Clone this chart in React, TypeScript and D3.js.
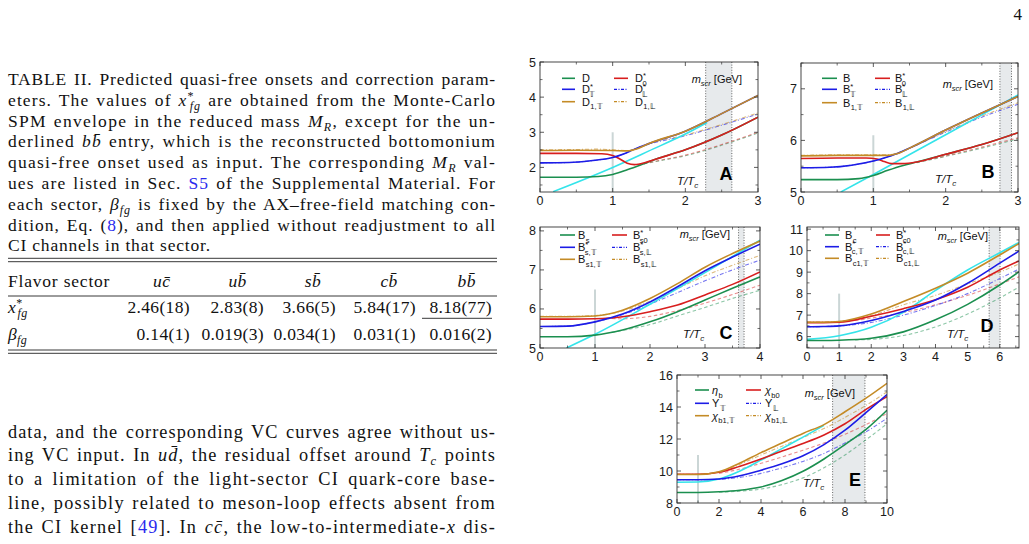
import { useEffect, useRef } from "react";
import * as d3 from "d3";

type Pt = [number, number];

const SERIF = '"Liberation Serif", "DejaVu Serif", serif';
const SANS = '"Liberation Sans", Arial, sans-serif';
const LINK = "#2b2bee";

// table II values
const SECTOR_LABELS = ["uc\u0304", "ub\u0304", "sb\u0304", "cb\u0304", "bb\u0304"];
const X_FG = [2.46, 2.83, 3.66, 5.84, 8.18];
const X_FG_ERR = [0.18, 0.08, 0.05, 0.17, 0.77];
const X_FG_TEXT = ["2.46(18)", "2.83(8)", "3.66(5)", "5.84(17)", "8.18(77)"];
const BETA_TEXT = ["0.14(1)", "0.019(3)", "0.034(1)", "0.031(1)", "0.016(2)"];

// panel A: D mesons
const D_PS: Pt[] = [[0, 1.72], [0.5, 1.72], [0.8, 1.74], [1, 1.8], [1.2, 1.93], [1.4, 2.08], [1.6, 2.24], [2, 2.5], [2.5, 2.92], [3, 3.43]];
const D_S: Pt[] = [[0, 2.4], [0.5, 2.4], [0.85, 2.39], [1, 2.34], [1.1, 2.24], [1.2, 2.12], [1.3, 2.08], [1.45, 2.14], [1.6, 2.24], [2, 2.5], [2.5, 2.92], [3, 3.43]];
const D_PS_DASH: Pt[] = [[1.35, 2.06], [1.6, 2.17], [2, 2.33], [2.5, 2.63], [3, 2.98]];
const D_S_DASH: Pt[] = [[1.35, 2.07], [1.6, 2.18], [2, 2.35], [2.5, 2.65], [3, 3.0]];
const D_VT: Pt[] = [[0, 2.13], [0.4, 2.14], [0.7, 2.19], [1, 2.28], [1.15, 2.38], [1.3, 2.52], [1.5, 2.68], [2, 3.03], [2.5, 3.53], [3, 4.05]];
const D_VL: Pt[] = [[0, 2.13], [0.4, 2.14], [0.7, 2.19], [1, 2.28], [1.15, 2.38], [1.3, 2.52], [1.5, 2.66], [2, 2.9], [2.5, 3.2], [3, 3.52]];
const D_AT: Pt[] = [[0, 2.48], [0.5, 2.49], [1, 2.48], [1.2, 2.47], [1.35, 2.54], [1.5, 2.68], [2, 3.03], [2.5, 3.53], [3, 4.05]];
const D_AL: Pt[] = [[0, 2.5], [0.5, 2.51], [0.8, 2.52], [1, 2.5], [1.2, 2.48], [1.35, 2.54], [1.5, 2.67], [2, 2.92], [2.5, 3.22], [3, 3.55]];
const D_FREE: Pt[] = [[0.18, 1.31], [1, 2.0], [1.5, 2.47], [2, 2.95], [2.3, 3.28]];

// panel B: B mesons
const B_PS: Pt[] = [[0, 5.24], [0.5, 5.24], [0.8, 5.26], [1, 5.32], [1.2, 5.42], [1.4, 5.51], [1.6, 5.58], [2, 5.73], [2.5, 5.92], [3, 6.15]];
const B_S: Pt[] = [[0, 5.65], [0.5, 5.66], [0.9, 5.66], [1.05, 5.64], [1.15, 5.59], [1.25, 5.55], [1.4, 5.55], [1.6, 5.58], [2, 5.73], [2.5, 5.92], [3, 6.15]];
const B_PS_DASH: Pt[] = [[1.6, 5.57], [2, 5.69], [2.5, 5.85], [3, 6.03]];
const B_S_DASH: Pt[] = [[1.6, 5.58], [2, 5.7], [2.5, 5.87], [3, 6.05]];
const B_VT: Pt[] = [[0, 5.47], [0.4, 5.48], [0.7, 5.52], [1, 5.6], [1.15, 5.66], [1.3, 5.73], [1.5, 5.85], [2, 6.2], [2.5, 6.53], [3, 6.85]];
const B_VL: Pt[] = [[0, 5.47], [0.4, 5.48], [0.7, 5.52], [1, 5.6], [1.15, 5.66], [1.3, 5.73], [1.5, 5.85], [2, 6.16], [2.5, 6.45], [3, 6.7]];
const B_AT: Pt[] = [[0, 5.7], [0.5, 5.71], [1, 5.71], [1.2, 5.71], [1.35, 5.75], [1.5, 5.85], [2, 6.2], [2.5, 6.53], [3, 6.85]];
const B_AL: Pt[] = [[0, 5.71], [0.5, 5.72], [1, 5.72], [1.2, 5.72], [1.35, 5.76], [1.5, 5.85], [2, 6.17], [2.5, 6.47], [3, 6.73]];
const B_FREE: Pt[] = [[0.55, 5.0], [1, 5.34], [2, 6.11], [3, 6.88]];

// panel C: Bs mesons
const BS_PS: Pt[] = [[0, 5.29], [0.5, 5.29], [1, 5.33], [1.5, 5.46], [2, 5.67], [2.5, 5.93], [3, 6.23], [3.5, 6.53], [4, 6.82]];
const BS_PS_DASH: Pt[] = [[1.3, 5.4], [2, 5.6], [2.5, 5.82], [3, 6.04], [3.5, 6.27], [4, 6.48]];
const BS_S: Pt[] = [[0, 5.74], [0.5, 5.74], [1, 5.75], [1.5, 5.8], [2, 5.93], [2.5, 6.1], [3, 6.36], [3.5, 6.63], [4, 6.95]];
const BS_S_DASH: Pt[] = [[1.2, 5.76], [1.5, 5.75], [2, 5.81], [2.5, 5.96], [3, 6.15], [3.5, 6.37], [4, 6.61]];
const BS_VT: Pt[] = [[0, 5.55], [0.5, 5.56], [1, 5.67], [1.5, 5.87], [2, 6.18], [2.5, 6.57], [3, 6.98], [3.5, 7.33], [4, 7.66]];
const BS_VL: Pt[] = [[0, 5.55], [0.5, 5.56], [1, 5.67], [1.5, 5.85], [2, 6.12], [2.5, 6.42], [3, 6.72], [3.5, 7.0], [4, 7.25]];
const BS_AT: Pt[] = [[0, 5.8], [0.5, 5.8], [1, 5.82], [1.25, 5.87], [1.5, 5.97], [2, 6.27], [2.5, 6.65], [3, 7.07], [3.5, 7.42], [4, 7.74]];
const BS_AL: Pt[] = [[0, 5.81], [0.5, 5.81], [1, 5.83], [1.25, 5.87], [1.5, 5.95], [2, 6.2], [2.5, 6.52], [3, 6.85], [3.5, 7.12], [4, 7.37]];
const BS_FREE: Pt[] = [[0.48, 5.0], [1, 5.35], [2, 6.12], [3, 6.93], [4, 7.76]];

// panel D: Bc mesons
const BC_PS: Pt[] = [[0, 5.82], [0.5, 5.82], [1, 5.83], [2, 5.92], [3, 6.22], [4, 6.78], [5, 7.5], [6, 8.4], [6.6, 9.02]];
const BC_PS_DASH: Pt[] = [[1.5, 5.85], [2, 5.87], [3, 6.05], [4, 6.45], [5, 7.05], [6, 7.8], [6.6, 8.3]];
const BC_S: Pt[] = [[0, 6.65], [0.5, 6.65], [1, 6.67], [2, 6.95], [3, 7.3], [4, 7.72], [5, 8.3], [6, 9.1], [6.6, 9.52]];
const BC_S_DASH: Pt[] = [[1.5, 6.75], [2, 6.86], [3, 7.12], [4, 7.48], [5, 7.92], [6, 8.45], [6.6, 8.78]];
const BC_VT: Pt[] = [[0, 6.46], [0.5, 6.47], [1, 6.5], [2, 6.75], [3, 7.17], [4, 7.7], [5, 8.48], [6, 9.42], [6.6, 9.98]];
const BC_VL: Pt[] = [[0, 6.46], [0.5, 6.47], [1, 6.5], [2, 6.66], [3, 7.0], [4, 7.45], [5, 8.0], [6, 8.7], [6.6, 9.15]];
const BC_AT: Pt[] = [[0, 6.67], [0.5, 6.67], [1, 6.7], [2, 7.05], [3, 7.63], [4, 8.25], [5, 8.95], [6, 9.8], [6.6, 10.33]];
const BC_AL: Pt[] = [[0, 6.68], [0.5, 6.68], [1, 6.71], [2, 6.98], [3, 7.48], [4, 7.92], [5, 8.45], [6, 9.0], [6.6, 9.38]];
const BC_FREE: Pt[] = [[0, 5.87], [1, 6.04], [2, 6.43], [3, 7.13], [4, 8.15], [5, 9.1], [6, 9.9], [6.6, 10.38]];

// panel E: bottomonium
const BB_PS: Pt[] = [[0, 8.66], [1, 8.66], [2, 8.7], [3, 8.8], [4, 9.0], [5, 9.4], [6, 9.98], [7, 10.75], [8, 11.65], [9, 12.6], [10, 13.8]];
const BB_PS_DASH: Pt[] = [[2, 8.67], [3, 8.74], [4, 8.87], [5, 9.15], [6, 9.57], [7, 10.2], [8, 11.0], [9, 11.95], [10, 12.95]];
const BB_S: Pt[] = [[0, 9.8], [1, 9.8], [2, 9.92], [3, 10.3], [4, 10.75], [5, 11.25], [6, 11.72], [7, 12.25], [8, 12.95], [9, 13.85], [10, 14.65]];
const BB_S_DASH: Pt[] = [[2, 9.85], [3, 10.12], [4, 10.48], [5, 10.88], [6, 11.3], [7, 11.75], [8, 12.3], [9, 12.9], [10, 13.6]];
const BB_VT: Pt[] = [[0, 9.45], [1, 9.45], [2, 9.5], [3, 9.7], [4, 10.05], [5, 10.45], [6, 10.95], [7, 11.65], [8, 12.55], [9, 13.65], [10, 14.78]];
const BB_VL: Pt[] = [[0, 9.45], [1, 9.45], [2, 9.48], [3, 9.6], [4, 9.85], [5, 10.2], [6, 10.6], [7, 11.1], [8, 11.75], [9, 12.45], [10, 13.3]];
const BB_AT: Pt[] = [[0, 9.78], [1, 9.78], [2, 9.95], [3, 10.5], [4, 11.15], [5, 11.75], [6, 12.35], [7, 12.9], [8, 13.7], [9, 14.55], [10, 15.48]];
const BB_AL: Pt[] = [[0, 9.79], [1, 9.79], [2, 9.93], [3, 10.42], [4, 11.0], [5, 11.55], [6, 12.1], [7, 12.65], [8, 13.35], [9, 14.1], [10, 14.95]];
const BB_FREE: Pt[] = [[0, 9.3], [1, 9.31], [2, 9.5], [3, 10.0], [4, 10.68], [5, 11.4], [6, 12.12], [7, 12.85]];

interface Name { base: string; sup?: string; sub?: string; italic?: boolean }

// legend order: column 1 (ps, vT, avT), column 2 (s, vL, avL)
const D_NAMES: Name[] = [{ base: "D" }, { base: "D", sup: "*", sub: "𝕋" }, { base: "D", sub: "1,𝕋" }, { base: "D", sup: "*", sub: "0" }, { base: "D", sup: "*", sub: "𝕃" }, { base: "D", sub: "1,𝕃" }];
const B_NAMES: Name[] = [{ base: "B" }, { base: "B", sup: "*", sub: "𝕋" }, { base: "B", sub: "1,𝕋" }, { base: "B", sup: "*", sub: "0" }, { base: "B", sup: "*", sub: "𝕃" }, { base: "B", sub: "1,𝕃" }];
const BS_NAMES: Name[] = [{ base: "B", sub: "s" }, { base: "B", sup: "*", sub: "s,𝕋" }, { base: "B", sub: "s1,𝕋" }, { base: "B", sup: "*", sub: "s0" }, { base: "B", sup: "*", sub: "s,𝕃" }, { base: "B", sub: "s1,𝕃" }];
const BC_NAMES: Name[] = [{ base: "B", sub: "c" }, { base: "B", sup: "*", sub: "c,𝕋" }, { base: "B", sub: "c1,𝕋" }, { base: "B", sup: "*", sub: "c0" }, { base: "B", sup: "*", sub: "c,𝕃" }, { base: "B", sub: "c1,𝕃" }];
const BB_NAMES: Name[] = [{ base: "η", sub: "b", italic: true }, { base: "Υ", sub: "𝕋" }, { base: "χ", sub: "b1,𝕋", italic: true }, { base: "χ", sub: "b0", italic: true }, { base: "Υ", sub: "𝕃" }, { base: "χ", sub: "b1,𝕃", italic: true }];

const COLORS = { ps: "#1b8f4f", s: "#d81e1e", v: "#1c1ce6", av: "#c48b26", free: "#34e4ea" };

interface PanelSpec {
  tag: string;
  sector: number;
  left: number; right: number; top: number; bottom: number;
  xDomain: [number, number]; yDomain: [number, number];
  xTicks: number[]; xMinor: number; yTicks: number[]; yMinor: number;
  tcTop: number;
  ps: Pt[]; s: Pt[]; psDash: Pt[]; sDash: Pt[]; vT: Pt[]; vL: Pt[]; aT: Pt[]; aL: Pt[]; free: Pt[];
  names: Name[];
  leg: { rows: number[]; c1: [number, number, number]; c2: [number, number, number] };
  mscr: [number, number]; ttc: [number, number]; letter: [number, number];
}

const PANELS: PanelSpec[] = [
  {
    tag: "A", sector: 0, left: 540, right: 758, top: 62, bottom: 192,
    xDomain: [0, 3], yDomain: [1.3, 5], xTicks: [0, 1, 2, 3], xMinor: 0.5, yTicks: [2, 3, 4, 5], yMinor: 0.5,
    tcTop: 3.0, ps: D_PS, s: D_S, psDash: D_PS_DASH, sDash: D_S_DASH, vT: D_VT, vL: D_VL, aT: D_AT, aL: D_AL, free: D_FREE,
    names: D_NAMES, leg: { rows: [16.3, 27.3, 39.7], c1: [22, 35, 42], c2: [74, 88, 95] },
    mscr: [742, 83], ttc: [677, 185], letter: [726, 180],
  },
  {
    tag: "B", sector: 1, left: 801, right: 1018, top: 63, bottom: 192,
    xDomain: [0, 3], yDomain: [5, 7.5], xTicks: [0, 1, 2, 3], xMinor: 0.5, yTicks: [5, 6, 7], yMinor: 0.5,
    tcTop: 6.1, ps: B_PS, s: B_S, psDash: B_PS_DASH, sDash: B_S_DASH, vT: B_VT, vL: B_VL, aT: B_AT, aL: B_AL, free: B_FREE,
    names: B_NAMES, leg: { rows: [15.3, 26.3, 39.7], c1: [21, 36, 42], c2: [74, 89, 94] },
    mscr: [993, 88], ttc: [935, 183], letter: [988, 178],
  },
  {
    tag: "C", sector: 2, left: 540, right: 760, top: 227, bottom: 348,
    xDomain: [0, 4], yDomain: [5, 8.1], xTicks: [0, 1, 2, 3, 4], xMinor: 0.5, yTicks: [5, 6, 7, 8], yMinor: 0.5,
    tcTop: 6.5, ps: BS_PS, s: BS_S, psDash: BS_PS_DASH, sDash: BS_S_DASH, vT: BS_VT, vL: BS_VL, aT: BS_AT, aL: BS_AL, free: BS_FREE,
    names: BS_NAMES, leg: { rows: [8, 20.3, 32.3], c1: [20, 35, 38], c2: [72, 87, 93] },
    mscr: [730, 238], ttc: [683, 338], letter: [726, 339],
  },
  {
    tag: "D", sector: 3, left: 807, right: 1019, top: 227, bottom: 348,
    xDomain: [0, 6.6], yDomain: [5.47, 11.1], xTicks: [0, 1, 2, 3, 4, 5, 6], xMinor: 0.5, yTicks: [6, 7, 8, 9, 10, 11], yMinor: 0.5,
    tcTop: 8.0, ps: BC_PS, s: BC_S, psDash: BC_PS_DASH, sDash: BC_S_DASH, vT: BC_VT, vL: BC_VL, aT: BC_AT, aL: BC_AL, free: BC_FREE,
    names: BC_NAMES, leg: { rows: [8, 19.7, 31.3], c1: [18, 32, 38], c2: [69, 83, 89] },
    mscr: [988, 240], ttc: [947, 338], letter: [987, 332],
  },
  {
    tag: "E", sector: 4, left: 677, right: 887, top: 375, bottom: 503,
    xDomain: [0, 10], yDomain: [8, 16], xTicks: [0, 2, 4, 6, 8, 10], xMinor: 1, yTicks: [8, 10, 12, 14, 16], yMinor: 1,
    tcTop: 11.0, ps: BB_PS, s: BB_S, psDash: BB_PS_DASH, sDash: BB_S_DASH, vT: BB_VT, vL: BB_VL, aT: BB_AT, aL: BB_AL, free: BB_FREE,
    names: BB_NAMES, leg: { rows: [15, 28.3, 40.7], c1: [18, 32, 35], c2: [69, 84, 88] },
    mscr: [855, 397], ttc: [803, 487], letter: [855, 486],
  },
];

function MesonName({ x, y, n }: { x: number; y: number; n: Name }) {
  return (
    <text x={x} y={y} fontSize={11} fontFamily={SANS} fill="#111">
      <tspan fontStyle={n.italic ? "italic" : undefined}>{n.base}</tspan>
      {n.sup && <tspan dy={-4.5} fontSize={7.5}>{n.sup}</tspan>}
      {n.sub && (
        <tspan dx={n.sup ? -3.4 : 0.3} dy={n.sup ? 8 : 3.5} fontSize={7.5}>
          {n.sub}
        </tspan>
      )}
    </text>
  );
}

function Panel({ p }: { p: PanelSpec }) {
  const x = d3.scaleLinear().domain(p.xDomain).range([p.left, p.right]);
  const y = d3.scaleLinear().domain(p.yDomain).range([p.bottom, p.top]);
  const line = d3
    .line<Pt>()
    .x((d) => x(d[0]))
    .y((d) => y(d[1]))
    .curve(d3.curveMonotoneX);

  const lo = X_FG[p.sector] - X_FG_ERR[p.sector];
  const hi = X_FG[p.sector] + X_FG_ERR[p.sector];

  const minorX = d3.range(p.xDomain[0], p.xDomain[1] + 1e-9, p.xMinor).filter((v) => !p.xTicks.some((t) => Math.abs(t - v) < 1e-6));
  const minorY = d3.range(Math.ceil(p.yDomain[0] / p.yMinor) * p.yMinor, p.yDomain[1] + 1e-9, p.yMinor).filter((v) => !p.yTicks.some((t) => Math.abs(t - v) < 1e-6));
  const clipId = `clip-${p.tag}`;

  const solid = (d: Pt[], c: string) => <path d={line(d) ?? ""} fill="none" stroke={c} strokeWidth={1.6} />;
  const dashed = (d: Pt[], c: string) => <path d={line(d) ?? ""} fill="none" stroke={c} strokeWidth={1.1} strokeOpacity={0.5} strokeDasharray="3.5,2.5" />;
  const dashDot = (d: Pt[], c: string) => <path d={line(d) ?? ""} fill="none" stroke={c} strokeWidth={1.1} strokeOpacity={0.6} strokeDasharray="4,2,1,2" />;

  const legendColors = [COLORS.ps, COLORS.v, COLORS.av, COLORS.s, COLORS.v, COLORS.av];
  const legendDash = [false, false, false, false, true, true];

  return (
    <g>
      <defs>
        <clipPath id={clipId}>
          <rect x={p.left} y={p.top} width={p.right - p.left} height={p.bottom - p.top} />
        </clipPath>
      </defs>
      {/* quasi-free onset band */}
      <rect x={x(lo)} y={p.top} width={x(hi) - x(lo)} height={p.bottom - p.top} fill="#e7eaec" />
      {[lo, hi].map((v, i) => (
        <line key={i} x1={x(v)} x2={x(v)} y1={p.top} y2={p.bottom} stroke="#555" strokeWidth={0.9} strokeDasharray="1,1.6" />
      ))}
      {/* T = Tc marker */}
      <line x1={x(1)} x2={x(1)} y1={p.bottom} y2={y(p.tcTop)} stroke="#cbd6d6" strokeWidth={2} />

      <g clipPath={`url(#${clipId})`}>
        {dashed(p.psDash, COLORS.ps)}
        {dashed(p.sDash, COLORS.s)}
        {dashDot(p.vL, COLORS.v)}
        {dashDot(p.aL, COLORS.av)}
        {solid(p.free, COLORS.free)}
        {solid(p.ps, COLORS.ps)}
        {solid(p.s, COLORS.s)}
        {solid(p.vT, COLORS.v)}
        {solid(p.aT, COLORS.av)}
      </g>

      {/* frame and inward ticks on all sides */}
      <rect x={p.left} y={p.top} width={p.right - p.left} height={p.bottom - p.top} fill="none" stroke="#333" strokeWidth={0.9} />
      {p.xTicks.map((t) => (
        <g key={`xt${t}`}>
          <line x1={x(t)} x2={x(t)} y1={p.bottom} y2={p.bottom - 4} stroke="#333" strokeWidth={0.8} />
          <line x1={x(t)} x2={x(t)} y1={p.top} y2={p.top + 4} stroke="#333" strokeWidth={0.8} />
          <text x={x(t)} y={p.bottom + 12.5} textAnchor="middle" fontSize={12.5} fontFamily={SANS} fill="#1a1a1a">
            {t}
          </text>
        </g>
      ))}
      {minorX.map((t) => (
        <g key={`xm${t}`}>
          <line x1={x(t)} x2={x(t)} y1={p.bottom} y2={p.bottom - 2.5} stroke="#333" strokeWidth={0.7} />
          <line x1={x(t)} x2={x(t)} y1={p.top} y2={p.top + 2.5} stroke="#333" strokeWidth={0.7} />
        </g>
      ))}
      {p.yTicks.map((t) => (
        <g key={`yt${t}`}>
          <line x1={p.left} x2={p.left + 4} y1={y(t)} y2={y(t)} stroke="#333" strokeWidth={0.8} />
          <line x1={p.right} x2={p.right - 4} y1={y(t)} y2={y(t)} stroke="#333" strokeWidth={0.8} />
          <text x={p.left - 4} y={y(t) + 4.5} textAnchor="end" fontSize={12.5} fontFamily={SANS} fill="#1a1a1a">
            {t}
          </text>
        </g>
      ))}
      {minorY.map((t) => (
        <g key={`ym${t}`}>
          <line x1={p.left} x2={p.left + 2.5} y1={y(t)} y2={y(t)} stroke="#333" strokeWidth={0.7} />
          <line x1={p.right} x2={p.right - 2.5} y1={y(t)} y2={y(t)} stroke="#333" strokeWidth={0.7} />
        </g>
      ))}

      {/* legend */}
      {p.names.map((n, i) => {
        const col = i < 3 ? p.leg.c1 : p.leg.c2;
        const cy = p.top + p.leg.rows[i % 3];
        return (
          <g key={`lg${i}`}>
            <line
              x1={p.left + col[0]}
              x2={p.left + col[1]}
              y1={cy}
              y2={cy}
              stroke={legendColors[i]}
              strokeWidth={legendDash[i] ? 1.2 : 1.6}
              strokeDasharray={legendDash[i] ? "3,1.5,1,1.5" : undefined}
            />
            <MesonName x={p.left + col[2]} y={cy + 4} n={n} />
          </g>
        );
      })}

      <text x={p.mscr[0]} y={p.mscr[1]} textAnchor="end" fontSize={11} fontFamily={SANS} fill="#111">
        <tspan fontStyle="italic">m</tspan>
        <tspan dy={2.5} fontSize={7.5} fontStyle="italic">scr</tspan>
        <tspan dy={-2.5}> [GeV]</tspan>
      </text>
      <text x={p.ttc[0]} y={p.ttc[1]} fontSize={11.5} fontFamily={SANS} fontStyle="italic" fill="#111">
        T/T<tspan dy={3} fontSize={8}>c</tspan>
      </text>
      <text x={p.letter[0]} y={p.letter[1]} textAnchor="middle" fontSize={18} fontWeight="bold" fontFamily={SANS} fill="#000">
        {p.tag}
      </text>
    </g>
  );
}

// column text block: x = 8 .. 496
const TEXT_X = 8;
const TEXT_W = 488;

function Caption() {
  const base = { fontSize: 17.5, fontFamily: SERIF, fill: "#111" } as const;
  const just = { "data-justify": TEXT_W, "data-gap": 7 } as const;
  const it = { fontStyle: "italic" } as const;
  return (
    <g>
      <text x={TEXT_X} y={85} {...base} {...just}>TABLE II. Predicted quasi-free onsets and correction param-</text>
      <text x={TEXT_X} y={105.8} {...base} {...just}>
        eters. The values of <tspan {...it}>x</tspan>
        <tspan dy={-6} fontSize={12}>*</tspan>
        <tspan dx={-5} dy={10} fontSize={12} {...it}>fg</tspan>
        <tspan dy={-4}> are obtained from the Monte-Carlo</tspan>
      </text>
      <text x={TEXT_X} y={126.6} {...base} {...just}>
        SPM envelope in the reduced mass <tspan {...it}>M</tspan>
        <tspan dy={4} fontSize={12} {...it}>R</tspan>
        <tspan dy={-4}>, except for the un-</tspan>
      </text>
      <text x={TEXT_X} y={147.4} {...base} {...just}>
        derlined <tspan {...it}>{"bb\u0304"}</tspan> entry, which is the reconstructed bottomonium
      </text>
      <text x={TEXT_X} y={168.2} {...base} {...just}>
        quasi-free onset used as input. The corresponding <tspan {...it}>M</tspan>
        <tspan dy={4} fontSize={12} {...it}>R</tspan>
        <tspan dy={-4}> val-</tspan>
      </text>
      <text x={TEXT_X} y={189} {...base} {...just}>
        ues are listed in Sec. <tspan fill={LINK}>S5</tspan> of the Supplemental Material. For
      </text>
      <text x={TEXT_X} y={209.8} {...base} {...just}>
        each sector, <tspan {...it}>β</tspan>
        <tspan dy={4} fontSize={12} {...it}>fg</tspan>
        <tspan dy={-4}> is fixed by the AX–free-field matching con-</tspan>
      </text>
      <text x={TEXT_X} y={230.6} {...base} {...just}>
        dition, Eq. (<tspan fill={LINK}>8</tspan>), and then applied without readjustment to all
      </text>
      <text x={TEXT_X} y={251.4} {...base} letterSpacing={0.8}>CI channels in that sector.</text>
    </g>
  );
}

const HEADER_X = [161.7, 237.5, 313, 389, 466.7];
const VALUE_RIGHT = [190, 264, 336, 416, 492];

function Table() {
  const base = { fontSize: 17.5, fontFamily: SERIF, fill: "#111", letterSpacing: 0.35 } as const;
  const rule = { x1: 8, x2: 497, stroke: "#222", strokeWidth: 0.9 };
  const underlineW = 70;
  return (
    <g>
      <line {...rule} y1={258.3} y2={258.3} />
      <line {...rule} y1={261.7} y2={261.7} />
      <text x={8} y={286.7} {...base} letterSpacing={0.8}>Flavor sector</text>
      {SECTOR_LABELS.map((s, i) => (
        <text key={s} x={HEADER_X[i]} y={286.7} textAnchor="middle" {...base} fontStyle="italic">
          {s}
        </text>
      ))}
      <line {...rule} y1={296} y2={296} />
      <text x={8} y={313.3} {...base}>
        <tspan fontStyle="italic">x</tspan>
        <tspan dy={-6} fontSize={12}>*</tspan>
        <tspan dx={-5} dy={10} fontSize={12} fontStyle="italic">fg</tspan>
      </text>
      {X_FG_TEXT.map((s, i) => (
        <text key={s} x={VALUE_RIGHT[i]} y={313.3} textAnchor="end" {...base}>
          {s}
        </text>
      ))}
      <line x1={VALUE_RIGHT[4] - underlineW} x2={VALUE_RIGHT[4]} y1={318.3} y2={318.3} stroke="#222" strokeWidth={0.9} />
      <text x={8} y={340} {...base}>
        <tspan fontStyle="italic">β</tspan>
        <tspan dy={4} fontSize={12} fontStyle="italic">fg</tspan>
      </text>
      {BETA_TEXT.map((s, i) => (
        <text key={s} x={VALUE_RIGHT[i]} y={340} textAnchor="end" {...base}>
          {s}
        </text>
      ))}
      <line {...rule} y1={350} y2={350} />
      <line {...rule} y1={353.3} y2={353.3} />
    </g>
  );
}

function Body() {
  const base = { fontSize: 18.3, fontFamily: SERIF, fill: "#111" } as const;
  const just = { "data-justify": TEXT_W, "data-gap": 7.5 } as const;
  const it = { fontStyle: "italic" } as const;
  return (
    <g>
      <text x={TEXT_X} y={437.7} {...base} {...just}>data, and the corresponding VC curves agree without us-</text>
      <text x={TEXT_X} y={461.4} {...base} {...just}>
        ing VC input. In <tspan {...it}>{"ud\u0304"}</tspan>, the residual offset around <tspan {...it}>T</tspan>
        <tspan dy={4} fontSize={12.5} {...it}>c</tspan>
        <tspan dy={-4}> points</tspan>
      </text>
      <text x={TEXT_X} y={485.2} {...base} {...just}>to a limitation of the light-sector CI quark-core base-</text>
      <text x={TEXT_X} y={508.9} {...base} {...just}>line, possibly related to meson-loop effects absent from</text>
      <text x={TEXT_X} y={532.7} {...base} {...just}>
        the CI kernel [<tspan fill={LINK}>49</tspan>]. In <tspan {...it}>{"cc\u0304"}</tspan>, the low-to-intermediate-<tspan {...it}>x</tspan> dis-
      </text>
    </g>
  );
}

export default function App() {
  const svgRef = useRef<SVGSVGElement>(null);

  // justify full-width lines: widen the letters a little, then let the word gaps take up the rest
  useEffect(() => {
    if (!svgRef.current) return;
    d3.select(svgRef.current)
      .selectAll<SVGTextElement, unknown>("text[data-justify]")
      .each(function () {
        const target = +(this.getAttribute("data-justify") ?? TEXT_W);
        const gap = +(this.getAttribute("data-gap") ?? 7);
        const fs = parseFloat(this.getAttribute("font-size") ?? "17");
        const txt = this.textContent ?? "";
        const gaps = txt.split(" ").length - 1;
        const chars = txt.replace(/\u0304/g, "").length;
        this.setAttribute("letter-spacing", "0");
        this.setAttribute("word-spacing", "0");
        const w0 = this.getBBox().width;
        const ls = Math.max(0, (target - w0 - gaps * (gap - 0.25 * fs)) / Math.max(1, chars - gaps));
        this.setAttribute("letter-spacing", String(Math.min(ls, 1.4)));
        const w1 = this.getBBox().width;
        if (gaps > 0) this.setAttribute("word-spacing", String((target - w1) / gaps));
      });
  }, []);

  return (
    <svg
      ref={svgRef}
      width={1029}
      height={544}
      viewBox="0 0 1029 544"
      style={{ position: "fixed", left: 0, top: 0, background: "#fff" }}
    >
      <rect width={1029} height={544} fill="#fff" />
      <text x={1022} y={20} textAnchor="end" fontSize={17} fontFamily={SERIF} fill="#111">
        4
      </text>
      <Caption />
      <Table />
      <Body />
      {PANELS.map((p) => (
        <Panel key={p.tag} p={p} />
      ))}
    </svg>
  );
}
